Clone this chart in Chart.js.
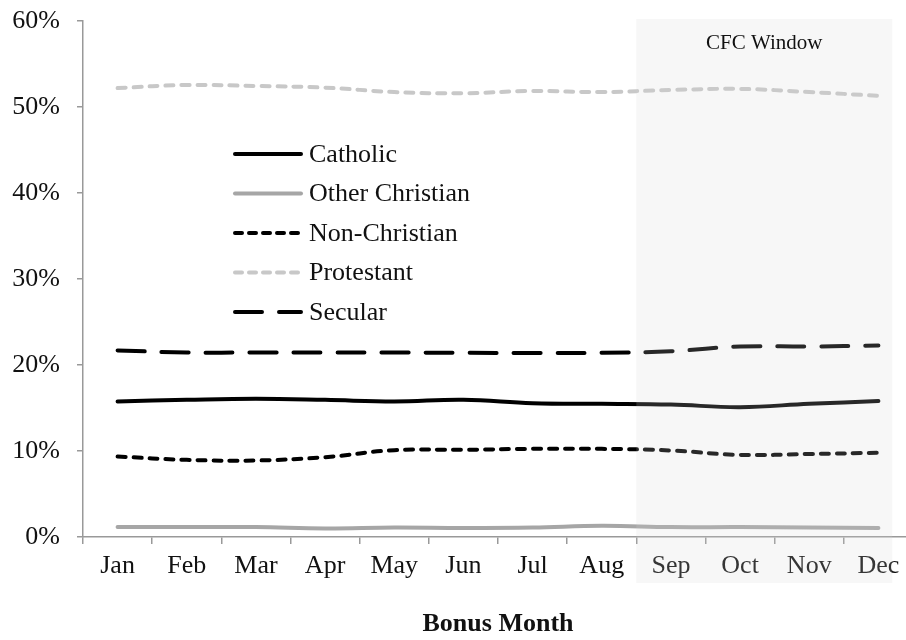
<!DOCTYPE html>
<html>
<head>
<meta charset="utf-8">
<script src="https://cdn.jsdelivr.net/npm/chart.js@4.4.0/dist/chart.umd.min.js"></script>
<style>
  html, body { margin: 0; padding: 0; background: #fff; overflow: hidden; }
  #wrap { width: 906px; height: 640px; overflow: hidden; position: relative; }
  #box { width: 940px; height: 640px; position: absolute; left: 0; top: 0; }
</style>
</head>
<body>
<div id="wrap"><div id="box"><canvas id="myChart"></canvas></div></div>
<script>
var months = ["Jan", "Feb", "Mar", "Apr", "May", "Jun", "Jul", "Aug", "Sep", "Oct", "Nov", "Dec"];
var catholic = [15.76, 15.95, 16.07, 15.95, 15.76, 15.95, 15.56, 15.49, 15.4, 15.1, 15.49, 15.8];
var otherChristian = [1.15, 1.15, 1.15, 1.0, 1.1, 1.05, 1.1, 1.3, 1.15, 1.15, 1.1, 1.05];
var nonChristian = [9.36, 8.97, 8.9, 9.28, 10.1, 10.14, 10.25, 10.25, 10.06, 9.55, 9.65, 9.79];
var protestant = [52.2, 52.56, 52.44, 52.25, 51.74, 51.6, 51.86, 51.74, 51.98, 52.1, 51.74, 51.3];
var secular = [21.7, 21.45, 21.45, 21.45, 21.45, 21.42, 21.4, 21.42, 21.6, 22.15, 22.15, 22.27];
var yTicks = [0, 10, 20, 30, 40, 50, 60];
var windowStart = 7.5;
var windowEnd = 11.2;
var windowLabel = "CFC Window";

var serif = "'Liberation Serif', 'Times New Roman', serif";

// shaded CFC window, drawn over the lines like the original
var cfcWindow = {
  id: "cfcWindow",
  afterDatasetsDraw: function (chart) {
    var ctx = chart.ctx;
    var x = chart.scales.x;
    var y = chart.scales.y;
    var x0 = x.getPixelForValue(windowStart);
    var x1 = x.getPixelForValue(windowEnd);
    var top = y.getPixelForValue(60) - 2;
    var bottom = chart.chartArea.bottom + 46;
    ctx.save();
    ctx.fillStyle = "rgba(212, 212, 212, 0.19)";
    ctx.fillRect(x0, top, x1 - x0, bottom - top);
    ctx.fillStyle = "#111";
    ctx.font = "21px " + serif;
    ctx.textAlign = "center";
    ctx.textBaseline = "middle";
    ctx.fillText(windowLabel, (x0 + x1) / 2, top + 24);
    ctx.restore();
  },
};

// legend inside the plot area
var innerLegend = {
  id: "innerLegend",
  afterDraw: function (chart) {
    var ctx = chart.ctx;
    var left = chart.chartArea.left + 150;
    var top = chart.chartArea.top + 133;
    ctx.save();
    ctx.font = "26px " + serif;
    ctx.textBaseline = "middle";
    ctx.textAlign = "left";
    chart.data.datasets.forEach(function (ds, i) {
      var yy = top + i * 39.5;
      ctx.strokeStyle = ds.borderColor;
      ctx.lineWidth = ds.borderWidth;
      ctx.lineCap = "round";
      ctx.setLineDash(ds.legendDash || []);
      ctx.beginPath();
      ctx.moveTo(left + 2, yy);
      ctx.lineTo(left + 68, yy);
      ctx.stroke();
      ctx.setLineDash([]);
      ctx.fillStyle = "#111";
      ctx.fillText(ds.label, left + 76, yy + 1);
    });
    ctx.restore();
  },
};

const ctx = document.getElementById("myChart").getContext("2d");
new Chart(ctx, {
  type: "line",
  data: {
    labels: months,
    datasets: [
      { label: "Catholic", data: catholic, borderColor: "#000000", borderWidth: 4, borderDash: [], legendDash: [] },
      { label: "Other Christian", data: otherChristian, borderColor: "#a6a6a6", borderWidth: 4, borderDash: [], legendDash: [] },
      { label: "Non-Christian", data: nonChristian, borderColor: "#000000", borderWidth: 4, borderDash: [8, 8], legendDash: [7, 7] },
      { label: "Protestant", data: protestant, borderColor: "#c8c8c8", borderWidth: 4, borderDash: [8, 8], legendDash: [7, 7] },
      { label: "Secular", data: secular, borderColor: "#000000", borderWidth: 4, borderDash: [27, 17], legendDash: [27, 17] },
    ],
  },
  options: {
    responsive: true,
    maintainAspectRatio: false,
    animation: false,
    layout: { padding: { top: 21, right: 27, left: 0, bottom: 0 } },
    elements: {
      point: { radius: 0 },
      line: { tension: 0.4, borderCapStyle: "round", fill: false },
    },
    plugins: {
      legend: { display: false },
      tooltip: { enabled: false },
    },
    scales: {
      x: {
        offset: true,
        grid: { offset: true, drawOnChartArea: false, tickLength: 7, tickColor: "#999", lineWidth: 1.5 },
        border: { color: "#999", width: 1.5 },
        ticks: { font: { family: serif, size: 26 }, color: "#111", padding: 7, maxRotation: 0, autoSkip: false },
        title: {
          display: true,
          text: "Bonus Month",
          font: { family: serif, size: 26, weight: "bold" },
          color: "#111",
          padding: { top: 0, bottom: 0 },
        },
        afterFit: function (scale) {
          scale.height = 103;
          scale.paddingLeft = 0;
          scale.paddingRight = 0;
        },
      },
      y: {
        min: 0,
        max: 60,
        afterBuildTicks: function (scale) {
          scale.ticks = yTicks.map(function (v) { return { value: v }; });
        },
        grid: { drawOnChartArea: false, tickLength: 6, tickColor: "#999", lineWidth: 1.5 },
        border: { color: "#999", width: 1.5 },
        ticks: {
          font: { family: serif, size: 26 },
          color: "#111",
          padding: 17,
          callback: function (v) { return v + "%"; },
        },
        afterFit: function (scale) {
          scale.width = 83;
          scale.paddingTop = 0;
          scale.paddingBottom = 0;
        },
      },
    },
  },
  plugins: [cfcWindow, innerLegend],
});
</script>
</body>
</html>
